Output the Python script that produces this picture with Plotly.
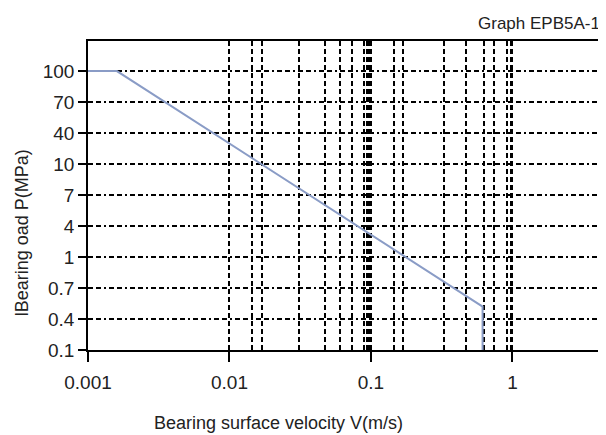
import plotly.graph_objects as go

# Y axis: evenly spaced category labels (bottom -> top), positions 0..9
y_labels = ["0.1", "0.4", "0.7", "1", "4", "7", "10", "40", "70", "100"]
y_positions = list(range(len(y_labels)))

# X axis (log) major ticks
x_ticks = [0.001, 0.01, 0.1, 1]
x_ticktext = ["0.001", "0.01", "0.1", "1"]

# Extra vertical grid lines seen in the chart
x_extra_grid = [0.0145, 0.017, 0.031, 0.047, 0.06, 0.073, 0.09, 0.094, 0.0975,
                0.146, 0.168, 0.33, 0.47, 0.63, 0.735, 0.915, 0.975]

# Limit curve: velocity (m/s) vs. position on the load-category axis
curve_v = [0.001, 0.0016, 0.615, 0.615]
curve_p_pos = [9, 9, 1.4, 0]

FONT = "Liberation Sans, Arial, sans-serif"
TXT = "#222222"
VDASH = "5px,3px"
HDASH = "5px,3px,5px,3px,2px,3px"

# The page body has an 8px default margin; the figure is sized so that it
# fills the 606x435 window exactly from that offset.
W, H = 598, 427
L, R, T, B = 80, 1, 33, 85
PW, PH = W - L - R, H - T - B


def px_x(x):
    return (x - L) / PW


def px_y(y):
    return (H - B - y) / PH


fig = go.Figure()
fig.add_trace(go.Scatter(
    x=curve_v, y=curve_p_pos, mode="lines",
    line=dict(color="#8a9cc6", width=2),
    hoverinfo="skip", showlegend=False,
))

fig.update_layout(
    width=W, height=H,
    margin=dict(l=L, r=R, t=T, b=B, pad=0),
    paper_bgcolor="white", plot_bgcolor="white",
    font=dict(family=FONT, color=TXT),
    xaxis=dict(
        type="log", range=[-3, 0.64],
        tickmode="array", tickvals=x_ticks, ticktext=x_ticktext,
        ticks="outside", ticklen=10, tickcolor="black", tickwidth=1.5,
        ticklabelstandoff=4,
        showline=True, linecolor="black", linewidth=1.6, mirror=True,
        showgrid=True, gridcolor="black", gridwidth=1.5, griddash=VDASH,
        minor=dict(tickmode="array", tickvals=x_extra_grid, showgrid=True,
                   gridcolor="black", gridwidth=1.5, griddash=VDASH, ticks=""),
        tickfont=dict(size=19, family=FONT, color=TXT),
        zeroline=False,
    ),
    yaxis=dict(
        range=[0, 9.97],
        tickmode="array", tickvals=y_positions, ticktext=y_labels,
        ticks="outside", ticklen=8, tickcolor="black", tickwidth=1.5,
        showline=True, linecolor="black", linewidth=1.6, mirror=True,
        showgrid=True, gridcolor="black", gridwidth=1.5, griddash=HDASH,
        tickfont=dict(size=19, family=FONT, color=TXT),
        zeroline=False,
    ),
    annotations=[
        dict(text="Graph EPB5A-1", xref="paper", yref="paper",
             x=px_x(596), y=px_y(15), xanchor="right", yanchor="middle",
             showarrow=False, font=dict(size=17, family=FONT, color=TXT)),
        dict(text="Bearing surface velocity V(m/s)", xref="paper", yref="paper",
             x=px_x(271), y=px_y(415), xanchor="center", yanchor="middle",
             showarrow=False, font=dict(size=18, family=FONT, color=TXT)),
        dict(text="lBearing oad P(MPa)", xref="paper", yref="paper",
             x=px_x(14), y=px_y(225), xanchor="center", yanchor="middle",
             textangle=-90, showarrow=False,
             font=dict(size=18, family=FONT, color=TXT)),
    ],
)

fig.write_html("out.html")
